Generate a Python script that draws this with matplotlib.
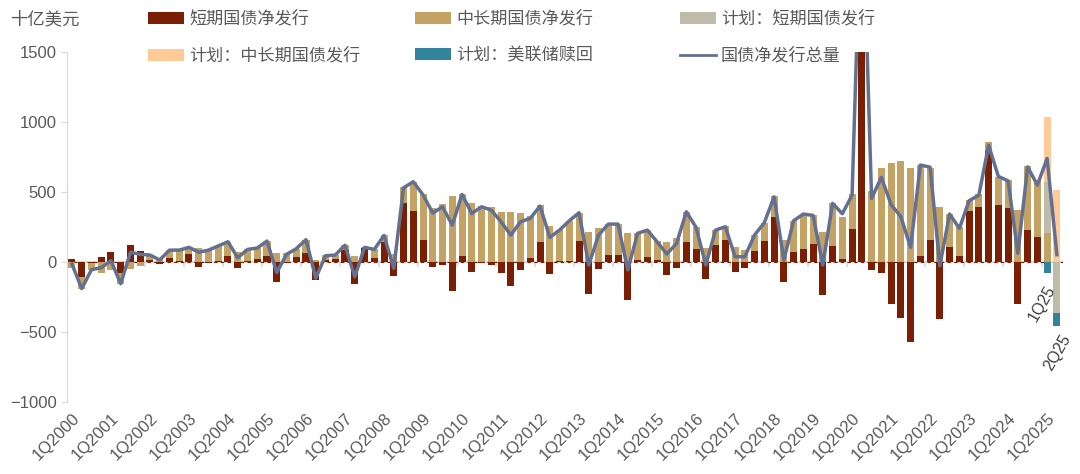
import numpy as np
import matplotlib as mpl
mpl.use('Agg')
from matplotlib import pyplot as plt
from matplotlib.patches import Patch
from matplotlib.lines import Line2D

plt.rcParams['font.family'] = ['Liberation Sans', 'Noto Sans CJK SC']

quarters = ['%dQ%d' % (q, y) for y in range(2000, 2026) for q in range(1, 5)][:102]

# 十亿美元
short_net = [20, -105, -5, 35, 70, -80, 120, 80, 15, -15, 30, 5,
             55, -35, -10, 5, 40, -45, 5, 25, 40, -140, -5, 35,
             65, -130, 15, 25, 85, -155, 100, 30, 145, -100, 420, 365,
             155, -35, -20, -205, 40, -70, -5, -20, -80, -170, -60, 30,
             145, -85, 5, 5, 150, -230, -50, 50, 50, -270, 15, 35,
             15, -90, -45, 145, 95, -120, 125, 160, -70, -45, 80, 150,
             325, -140, 75, 90, 130, -235, 115, 25, 235, 2200, -55, -75,
             -300, -400, -570, 45, 155, -410, 110, 40, 365, 395, 790, 410,
             385, -300, 230, 178, 0, 0]
long_net = [-40, -90, -55, -75, -60, -75, -50, -30, 35, 30, 55, 80,
            50, 100, 95, 110, 100, 75, 85, 75, 110, 65, 65, 60,
            90, 15, 35, 25, 40, 45, 5, 65, 50, 55, 115, 210,
            330, 385, 415, 470, 445, 420, 400, 390, 360, 360, 350, 300,
            260, 260, 225, 285, 200, 215, 245, 225, 225, 210, 190, 195,
            135, 145, 175, 215, 155, 100, 105, 95, 110, 85, 115, 130,
            145, 155, 220, 255, 205, 215, 305, 300, 250, 560, 510, 675,
            710, 725, 675, 645, 520, 395, 235, 210, 80, 90, 65, 200,
            200, 373, 453, 410, 210, 0]
total_net = [-15, -190, -55, -40, 10, -155, 70, 55, 50, 15, 85, 85,
             105, 70, 85, 115, 145, 30, 90, 100, 150, -75, 55, 95,
             160, -115, 45, 50, 120, -105, 105, 90, 190, -45, 530, 574,
             480, 350, 395, 264, 483, 347, 395, 371, 288, 193, 288, 312,
             400, 176, 228, 295, 352, -21, 193, 271, 271, -57, 205, 228,
             145, 57, 133, 359, 248, -21, 228, 252, 38, 38, 193, 281,
             466, 14, 295, 343, 333, -21, 419, 345, 478, 2750, 455, 605,
             410, 324, 105, 693, 678, -27, 343, 240, 438, 478, 835, 612,
             580, 62, 680, 550, 740, 52]

plan_quarters = ['1Q2025', '2Q2025']
plan_short = [365, -365]
plan_long = [465, 515]
fed_redeem = [-80, -95]

n = len(quarters)
x = np.arange(n)


def full(vals):
    arr = np.zeros(n)
    for q, v in zip(plan_quarters, vals):
        arr[quarters.index(q)] = v
    return arr


c_red = '#7A1E04'
c_tan = '#C4A264'
c_gray = '#BEBBA8'
c_peach = '#FFCA96'
c_teal = '#31849B'
c_line = '#63708F'
c_text = '#595959'
c_axis = '#D9D9D9'

series = [(short_net, '短期国债净发行', c_red),
          (long_net, '中长期国债净发行', c_tan),
          (full(plan_short), '计划：短期国债发行', c_gray),
          (full(plan_long), '计划：中长期国债发行', c_peach),
          (full(fed_redeem), '计划：美联储赎回', c_teal)]

fig = plt.figure(figsize=(10.8, 4.74), dpi=100)
ax = fig.add_axes([0.062, 0.152, 0.922, 0.738])

ax.axhline(0, color=c_axis, lw=1.5, zorder=1)
ax.axhline(0, color=c_red, lw=0.8, dashes=(3, 3), zorder=1.5)

pos = np.zeros(n)
neg = np.zeros(n)
for vals, label, color in series:
    v = np.asarray(vals, dtype=float)
    bottom = np.where(v >= 0, pos, neg)
    ax.bar(x, v, width=0.72, bottom=bottom, color=color, zorder=2)
    pos += np.clip(v, 0, None)
    neg += np.clip(v, None, 0)

ax.plot(x, total_net, color=c_line, lw=2.5, zorder=4)

ax.vlines(np.arange(3.5, n, 4), -35, 0, color=c_axis, lw=1.2, zorder=1)

ax.set_xlim(-0.513, 101.6)
ax.set_ylim(-1000, 1500)
ax.set_yticks([-1000, -500, 0, 500, 1000, 1500])
ax.tick_params(axis='y', colors=c_axis, labelcolor=c_text, labelsize=12, length=4)
ax.set_xticks(x[::4])
ax.set_xticklabels(quarters[::4], rotation=45, ha='right', rotation_mode='anchor',
                   fontsize=12, color=c_text)
ax.tick_params(axis='x', length=0, pad=6)
for s in ['top', 'right', 'bottom']:
    ax.spines[s].set_visible(False)
ax.spines['left'].set_color(c_axis)

ax.text(99.45, -293, '1Q25', rotation=60, ha='center', va='center',
        fontsize=11.5, color='#404040', clip_on=False)
ax.text(101.1, -643, '2Q25', rotation=60, ha='center', va='center',
        fontsize=11.5, color='#404040', clip_on=False)

fig.text(10 / 1080, 1 - 19 / 474, '十亿美元', va='center', fontsize=12.5, color=c_text)

h = {label: Patch(facecolor=color, edgecolor='none') for _, label, color in series}
h['国债净发行总量'] = Line2D([], [], color=c_line, lw=2)
columns = [(['短期国债净发行', '计划：中长期国债发行'], 148),
           (['中长期国债净发行', '计划：美联储赎回'], 415),
           (['计划：短期国债发行', '国债净发行总量'], 680)]
for labels, px in columns:
    fig.legend([h[l] for l in labels], labels, loc='upper left',
               bbox_to_anchor=(px / 1080, 1 - 10 / 474), frameon=False,
               fontsize=12.3, labelcolor=c_text, borderpad=0, borderaxespad=0,
               handlelength=2.1, handleheight=0.7, handletextpad=0.3,
               labelspacing=1.2)

fig.savefig('out.png', dpi=100)
